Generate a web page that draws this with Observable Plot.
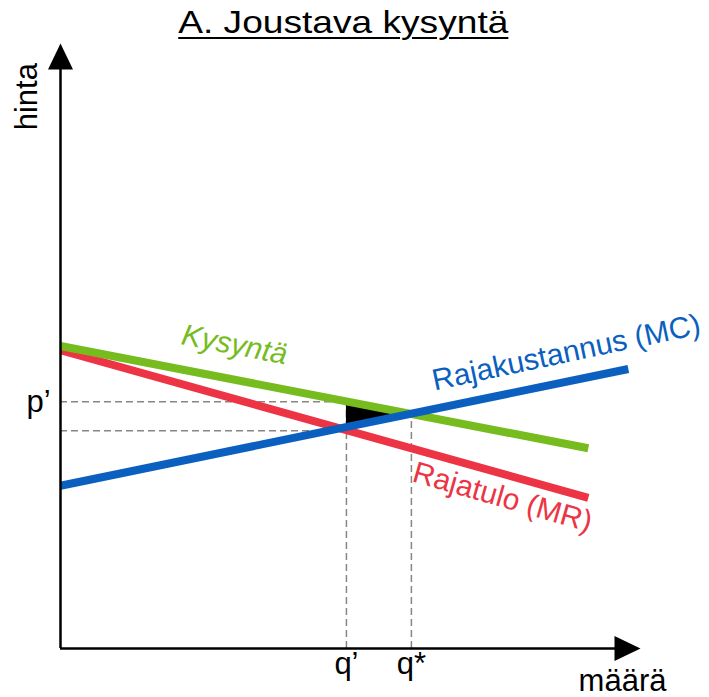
<!DOCTYPE html>
<html>
<head>
<meta charset="utf-8">
<script src="https://cdn.jsdelivr.net/npm/d3@7"></script>
<script src="https://cdn.jsdelivr.net/npm/@observablehq/plot@0.6"></script>
<style>
  html, body { margin: 0; padding: 0; background: #fff; }
  #wrap { position: relative; width: 709px; height: 697px; }
  #title { position: absolute; top: 6px; left: 0; width: 686px; text-align: center;
           font-family: "Liberation Sans", Arial, sans-serif; font-size: 32px; line-height: 32px; color: #000; }
  #title span { display: inline-block; transform: scaleX(1.16); transform-origin: center;
           text-decoration: underline; text-decoration-thickness: 2px; text-underline-offset: 4px; }
</style>
</head>
<body>
<div id="wrap">
  <div id="chart"></div>
  <div id="title"><span>A. Joustava kysyntä</span></div>
</div>
<script>
// ---- Data (quantity 0..10, price 0..10) ----
const demandQ = [0, 9.1];
const demandP = [5.0, 3.31];
const mrQ = [0, 9.1];
const mrP = [4.93, 2.49];
const mcQ = [0, 9.79];
const mcP = [2.69, 4.62];

const qPrime = 4.93;       // q'
const qStar = 6.05;        // q*
const pPrime = 4.08;       // p'
const mrAtQPrime = 3.60;   // lower dashed level
const mcAtQPrime = 3.66;
const pStar = 3.88;

const tickLabels = ["p’", "q’", "q*"];
const axisNames = ["hinta", "määrä"];
const lineNames = ["Kysyntä", "Rajakustannus (MC)", "Rajatulo (MR)"];
const lineLabelQ = [3.0, 8.72, 7.62];
const lineLabelP = [5.02, 4.89, 2.50];

const colors = { demand: "#77bc1f", mc: "#0a5fbf", mr: "#ec3445", dash: "#8a857f" };

// ---- Tables built from the arrays ----
const demand = demandQ.map((q, i) => ({ q, p: demandP[i] }));
const mr = mrQ.map((q, i) => ({ q, p: mrP[i] }));
const mc = mcQ.map((q, i) => ({ q, p: mcP[i] }));
const triangle = [
  { q: qPrime, lo: mcAtQPrime, hi: pPrime },
  { q: qStar, lo: pStar, hi: pStar }
];
const arrowTips = [{ q: 0, p: 10, r: 0 }, { q: 10, p: 0, r: 90 }];
const arrowHead = {
  draw(ctx) { ctx.moveTo(0, 0); ctx.lineTo(12.5, 26); ctx.lineTo(-12.5, 26); ctx.closePath(); }
};

const font = "'Liberation Sans', Arial, sans-serif";
const dash = { stroke: colors.dash, strokeWidth: 1.5, strokeDasharray: "7,4" };
const lineStyle = { strokeWidth: 8, strokeLinecap: "butt" };

const chart = Plot.plot({
  width: 709,
  height: 697,
  margin: 0,
  style: { fontFamily: font, background: "transparent", overflow: "visible" },
  x: { domain: [0, 10], range: [60, 640], axis: null },
  y: { domain: [0, 10], range: [648, 43], axis: null },
  marks: [
    // dashed guides
    Plot.ruleY([pPrime], { x1: 0, x2: qPrime, ...dash }),
    Plot.ruleY([mrAtQPrime], { x1: 0, x2: qPrime, ...dash }),
    Plot.ruleX([qPrime], { y1: 0, y2: pPrime, ...dash }),
    Plot.ruleX([qStar], { y1: 0, y2: pStar, ...dash }),
    // deadweight loss triangle
    Plot.areaY(triangle, { x: "q", y1: "lo", y2: "hi", fill: "black" }),
    // curves
    Plot.line(mr, { x: "q", y: "p", stroke: colors.mr, ...lineStyle }),
    Plot.line(demand, { x: "q", y: "p", stroke: colors.demand, ...lineStyle }),
    Plot.line(mc, { x: "q", y: "p", stroke: colors.mc, ...lineStyle }),
    // axes
    Plot.ruleX([0], { y1: 0, y2: 9.6, stroke: "black", strokeWidth: 2.5 }),
    Plot.ruleY([0], { x1: 0, x2: 9.6, stroke: "black", strokeWidth: 2.5 }),
    Plot.dot(arrowTips, { x: "q", y: "p", rotate: "r", symbol: arrowHead, fill: "black", stroke: "none" }),
    // axis names
    Plot.text([axisNames[0]], { x: 0, y: 9.12, text: d => d, rotate: -90, dx: -33, fontSize: 31, lineAnchor: "middle", fill: "black" }),
    Plot.text([axisNames[1]], { x: 9.69, y: 0, text: d => d, dy: 20, fontSize: 31, lineAnchor: "top", fill: "black" }),
    // tick labels
    Plot.text([tickLabels[0]], { x: 0, y: pPrime, text: d => d, dx: -22, fontSize: 31, lineAnchor: "middle", fill: "black" }),
    Plot.text([tickLabels[1]], { x: qPrime, y: 0, text: d => d, dy: 3, fontSize: 31, lineAnchor: "top", fill: "black" }),
    Plot.text([tickLabels[2]], { x: qStar, y: 0, text: d => d, dy: 3, fontSize: 31, lineAnchor: "top", fill: "black" }),
    // line labels
    Plot.text([lineNames[0]], { x: lineLabelQ[0], y: lineLabelP[0], text: d => d, rotate: 11, fontSize: 30, fontStyle: "italic", fill: colors.demand, lineAnchor: "middle" }),
    Plot.text([lineNames[1]], { x: lineLabelQ[1], y: lineLabelP[1], text: d => d, rotate: -12, fontSize: 30, fill: colors.mc, lineAnchor: "middle" }),
    Plot.text([lineNames[2]], { x: lineLabelQ[2], y: lineLabelP[2], text: d => d, rotate: 16, fontSize: 30, fill: colors.mr, lineAnchor: "middle" })
  ]
});
document.getElementById("chart").appendChild(chart);
</script>
</body>
</html>
